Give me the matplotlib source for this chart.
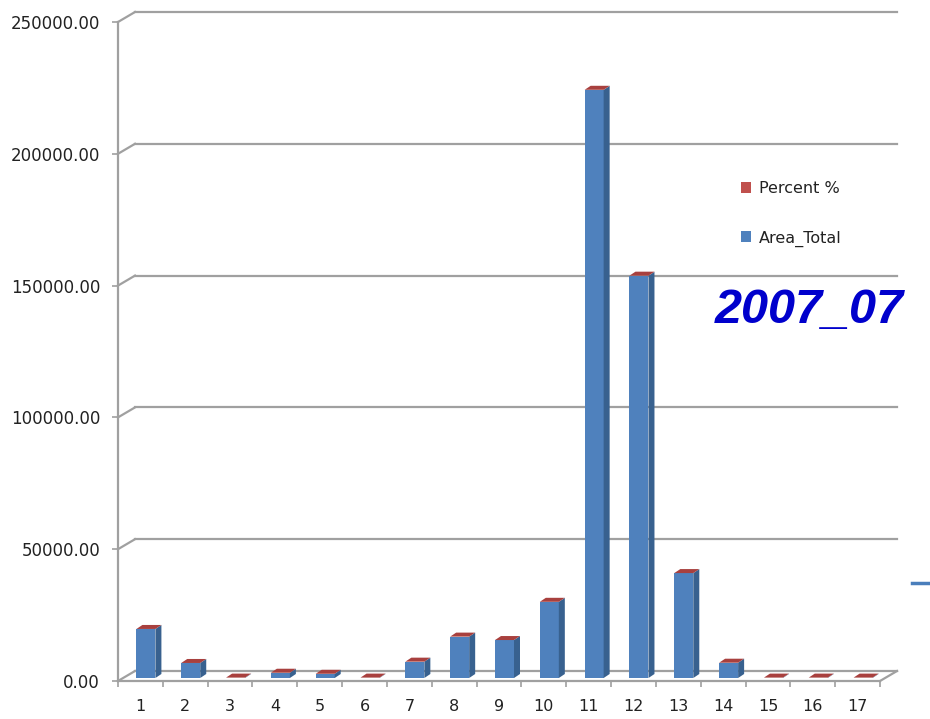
import numpy as np
import matplotlib
matplotlib.use("Agg")
import matplotlib.pyplot as plt
from matplotlib.patches import Polygon, Patch
from matplotlib.lines import Line2D

# ---------------- data ----------------
categories = [str(i) for i in range(1, 18)]
area_total = [18600, 5700, 150, 2000, 1600, 150, 6200, 15700, 14400, 28900,
              223100, 152600, 39800, 5800, 150, 150, 150]
percent = [3.6, 1.1, 0.0, 0.4, 0.3, 0.0, 1.2, 3.0, 2.8, 5.6,
           43.2, 29.6, 7.7, 1.1, 0.0, 0.0, 0.0]
y_ticks = [0, 50000, 100000, 150000, 200000, 250000]
y_tick_labels = [f"{v:.2f}" for v in y_ticks]
series_names = ["Percent %", "Area_Total"]
title_text = "2007_07"

# ---------------- style ----------------
W, H, DPI = 930, 719, 100
blue_front = "#4F81BD"
blue_side = "#38618F"
red_front = "#C0504D"
red_top = "#A8403E"
red_side = "#8C3533"
grid_col = "#A0A0A0"

fig = plt.figure(figsize=(W / DPI, H / DPI), dpi=DPI)
fig.patch.set_facecolor("white")
ax_left, ax_right, ax_top, ax_bot = 118, 880, 22, 681
ax = fig.add_axes([ax_left / W, (H - ax_bot) / H,
                   (ax_right - ax_left) / W, (ax_bot - ax_top) / H])
n = len(categories)
ax.set_xlim(0.5, n + 0.5)
ax.set_ylim(0, y_ticks[-1])
ax.patch.set_visible(False)
for s in ax.spines.values():
    s.set_visible(False)

# pixel -> data conversions
px_x = n / (ax_right - ax_left)
px_y = y_ticks[-1] / (ax_bot - ax_top)
DX, DY = 17 * px_x, 10 * px_y          # floor depth
BDX, BDY = 6 * px_x, 4 * px_y          # bar depth
SX, SY = (DX - BDX) / 2, (DY - BDY) / 2  # bar position inside depth
BW = 19 * px_x

x0, x1 = 0.5, n + 0.5
# walls / gridlines
for v in y_ticks:
    ax.plot([x0, x0 + DX], [v, v + DY], color=grid_col, lw=1.6, clip_on=False, zorder=1)
    ax.plot([x0 + DX, x1 + DX], [v + DY, v + DY], color=grid_col, lw=1.6,
            clip_on=False, zorder=1)
# front axis line and floor
ax.plot([x0, x0], [0, y_ticks[-1]], color=grid_col, lw=1.6, clip_on=False, zorder=2)
ax.plot([x0, x1], [0, 0], color=grid_col, lw=1.6, clip_on=False, zorder=2)
ax.plot([x1, x1 + DX], [0, DY], color=grid_col, lw=1.6, clip_on=False, zorder=2)

# bars
x = np.arange(1, n + 1)
fx = x + SX
area = np.array(area_total, dtype=float)
pct = np.array(percent, dtype=float)
ax.bar(fx, area, width=BW, bottom=SY, color=blue_front, zorder=3, linewidth=0)
ax.bar(fx, pct, width=BW, bottom=SY + area, color=red_front, zorder=3, linewidth=0)
for xi, a, p in zip(fx, area, pct):
    l, r = xi - BW / 2, xi + BW / 2
    b, m, t = SY, SY + a, SY + a + p
    ax.add_patch(Polygon([(r, b), (r + BDX, b + BDY), (r + BDX, m + BDY), (r, m)],
                         closed=True, facecolor=blue_side, edgecolor="none", zorder=3))
    ax.add_patch(Polygon([(r, m), (r + BDX, m + BDY), (r + BDX, t + BDY), (r, t)],
                         closed=True, facecolor=red_side, edgecolor="none", zorder=3))
    ax.add_patch(Polygon([(l, t), (r, t), (r + BDX, t + BDY), (l + BDX, t + BDY)],
                         closed=True, facecolor=red_top, edgecolor="none", zorder=4))

# ticks
ax.set_yticks(y_ticks)
ax.set_yticklabels(y_tick_labels)
ax.tick_params(axis="y", direction="out", length=4.3, width=1.2, color=grid_col,
               pad=8.6, labelsize=12, labelcolor="#222222")
ax.set_xticks(x)
ax.set_xticklabels(categories)
ax.set_xticks(np.arange(0.5, n + 1), minor=True)
ax.tick_params(axis="x", which="major", length=0, pad=13, labelsize=11.5,
               labelcolor="#222222")
ax.tick_params(axis="x", which="minor", direction="out", length=4.3, width=1.2,
               color=grid_col)

# legend
handles = [Patch(facecolor=red_front, edgecolor="none"),
           Patch(facecolor=blue_front, edgecolor="none")]
fig.legend(handles, series_names, loc="upper left",
           bbox_to_anchor=(741 / W, (H - 181) / H), frameon=False,
           fontsize=11.5, handlelength=0.65, handleheight=0.65,
           handletextpad=0.5, labelspacing=2.15, borderpad=0, borderaxespad=0,
           labelcolor="#222222")

# title
fig.text(715 / W, (H - 323) / H, title_text, color="#0000CC", fontsize=35,
         fontfamily="Liberation Sans", fontweight="bold", fontstyle="italic",
         va="baseline", ha="left")

# stray blue dash at right edge (from original slide)
fig.add_artist(Line2D([912 / W, 1.0], [(H - 583) / H] * 2, transform=fig.transFigure,
                      color="#4A7EBB", lw=2.5))

fig.savefig("out.png", dpi=DPI)
